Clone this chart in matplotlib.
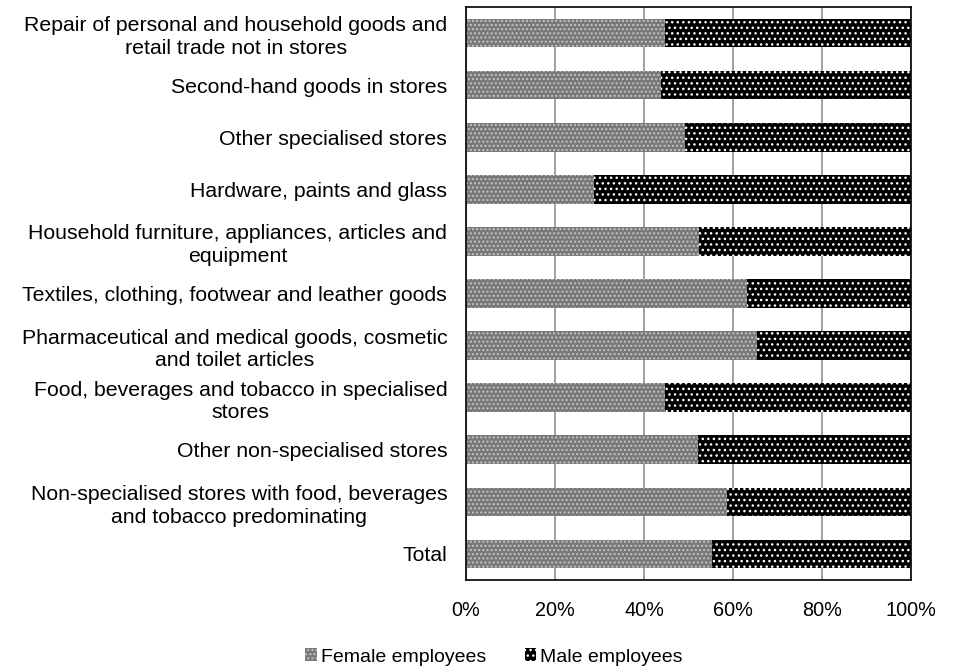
import matplotlib
matplotlib.use("Agg")
import matplotlib.pyplot as plt
from matplotlib.ticker import FuncFormatter

plt.rcParams['font.family'] = ['Liberation Sans', 'DejaVu Sans']
plt.rcParams['hatch.linewidth'] = 1.0

categories = [
    "Repair of personal and household goods and\nretail trade not in stores",
    "Second-hand goods in stores",
    "Other specialised stores",
    "Hardware, paints and glass",
    "Household furniture, appliances, articles and\nequipment",
    "Textiles, clothing, footwear and leather goods",
    "Pharmaceutical and medical goods, cosmetic\nand toilet articles",
    "Food, beverages and tobacco in specialised\nstores",
    "Other non-specialised stores",
    "Non-specialised stores with food, beverages\nand tobacco predominating",
    "Total",
]
female = [44.8, 43.9, 49.3, 28.7, 52.4, 63.1, 65.4, 44.8, 52.1, 58.7, 55.2]
male = [55.2, 56.1, 50.7, 71.3, 47.6, 36.9, 34.6, 55.2, 47.9, 41.3, 44.8]
series_names = ["Female employees", "Male employees"]
xticks = [0, 20, 40, 60, 80, 100]

fig = plt.figure(figsize=(9.57, 6.67), dpi=100)
ax = fig.add_axes([466 / 957, 1 - 580 / 667, 445 / 957, 573 / 667])

pos = list(range(len(categories)))
ax.barh(pos, female, height=0.55, facecolor='#787878', edgecolor='#c4c4c4',
        hatch='....', linewidth=0, label=series_names[0], zorder=2)
ax.barh(pos, male, left=female, height=0.55, facecolor='black', edgecolor='white',
        hatch='...', linewidth=0, label=series_names[1], zorder=2)

ax.set_xlim(0, 100)
ax.set_ylim(len(categories) - 0.5, -0.5)
ax.set_yticks(pos)
ax.set_yticklabels(categories, fontsize=15.3)
for lbl in ax.get_yticklabels():
    lbl.set_multialignment('center')
    lbl.set_linespacing(1.25)
ax.set_xticks(xticks)
ax.xaxis.set_major_formatter(FuncFormatter(lambda v, p: f"{v:.0f}%"))
ax.tick_params(axis='x', length=0, pad=15, labelsize=14.3)
ax.tick_params(axis='y', length=0, pad=13.5)

ax.grid(axis='x', color='#868686', linewidth=1.1, zorder=0)
ax.set_axisbelow(True)
for s in ax.spines.values():
    s.set_color('black')
    s.set_linewidth(1.2)

fig.legend(loc='center', bbox_to_anchor=(494 / 957, 1 - 657 / 667), ncol=2,
           frameon=False, fontsize=14, handlelength=0.6, handleheight=0.6,
           handletextpad=0.2, columnspacing=2.0)

fig.savefig("out.png", dpi=100)
